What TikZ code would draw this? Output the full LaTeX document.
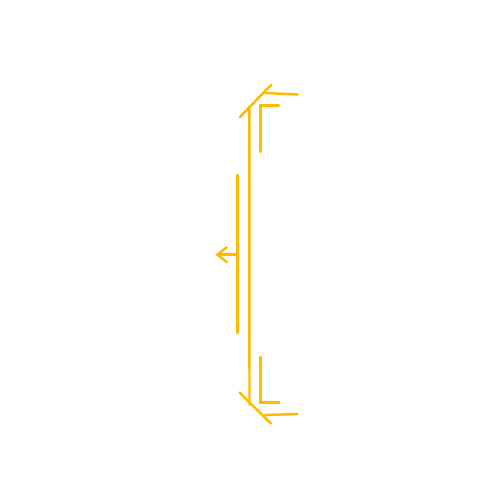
\documentclass[tikz,border=0pt]{standalone}
\usepackage{tikz}
\usetikzlibrary{calc}

\definecolor{amber}{RGB}{255,186,0}

\begin{document}
\begin{tikzpicture}[
        x=0.02cm, y=-0.02cm,
        stroke/.style={draw=amber, line width=1.4pt, line cap=round}
    ]
        \useasboundingbox (0,0) rectangle (500,500);

        % Ends of the long bar
        \coordinate (top) at (249.3,108);
        \coordinate (bot) at (249.5,405);

        % Long bar
        \draw[stroke] (top) -- (bot);

        % Top cap: slanted stroke and flag
        \draw[stroke] (240,117) -- (271,85);
        \draw[stroke] (265,93) -- (298,94.5);
        % Inner corner at the top
        \draw[stroke] (260.7,152) -- (260.7,105.7) -- (279,105.7);

        % Bottom cap: slanted stroke and flag
        \draw[stroke] (239.5,392.5) -- (271,423.5);
        \draw[stroke] (265,415) -- (297.5,414);
        % Inner corner at the bottom
        \draw[stroke] (260.7,357) -- (260.7,402.3) -- (279.3,402.3);

        % Short bar with arrow to the left
        \coordinate (mid) at (237.7,254.7);
        \draw[stroke] (237.7,175) -- (237.7,333);
        \draw[stroke] (mid) -- (217.5,254.7);
        \draw[stroke] (226.7,247.3) -- (217.5,254.7) -- (226.7,262);
    \end{tikzpicture}
\end{document}
